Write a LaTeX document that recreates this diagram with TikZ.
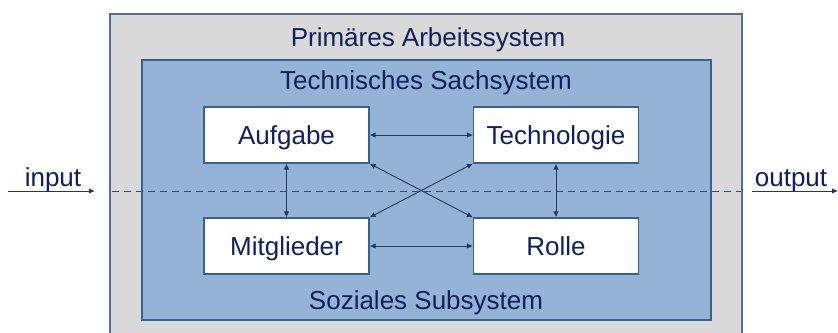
\documentclass[tikz,border=0pt]{standalone}
\usepackage{fontspec}
\setmainfont{Liberation Sans}
\usetikzlibrary{arrows.meta}
\definecolor{txt}{HTML}{10205A}
\definecolor{outerfill}{HTML}{D9D9D9}
\definecolor{outerline}{HTML}{4F6E9A}
\definecolor{innerfill}{HTML}{95B3D7}
\definecolor{innerline}{HTML}{3B5F8F}
\definecolor{arr}{HTML}{1F3864}
\begin{document}
\begin{tikzpicture}[x=1pt,y=-1pt,
  lbl/.style={text=txt,font=\fontsize{26}{30}\selectfont,inner sep=0pt,text height=18.6pt,text depth=0pt},
  elem/.style={draw=innerline,line width=1.2pt,fill=white,minimum width=165pt,minimum height=56pt,inner sep=0pt,text height=18.6pt,text depth=0pt,text=txt,font=\fontsize{26}{30}\selectfont},
  conn/.style={draw=arr,line width=0.9pt,{Latex[length=6pt,width=5.5pt]}-{Latex[length=6pt,width=5.5pt]}},
  oneway/.style={draw=arr,line width=0.9pt,-{Latex[length=6pt,width=5.5pt]}}]
\useasboundingbox (0,0) rectangle (838,332);
\clip (0,0) rectangle (838,332);
\fill[white] (0,0) rectangle (838,332);
% outer system
\draw[fill=outerfill,draw=outerline,line width=1.2pt] (110,14) rectangle (742,345);
\node[lbl] (prim) at (428,37.5) {Primäres Arbeitssystem};
% inner system
\draw[fill=innerfill,draw=innerline,line width=1.5pt] (142,60) rectangle (711,320);
\node[lbl] (tech) at (426,80) {Technisches Sachsystem};
\node[lbl] (soz) at (426,300) {Soziales Subsystem};
% dashed separator
\coordinate (dl) at (112,191);
\coordinate (dr) at (741,191);
\draw[arr!90,line width=0.9pt,dash pattern=on 7pt off 5pt] (dl) -- (dr);
% elements
\node[elem] (auf) at (286.5,135) {Aufgabe};
\node[elem] (tec) at (556,135) {Technologie};
\node[elem] (mit) at (286.5,246) {Mitglieder};
\node[elem] (rol) at (556,246) {Rolle};
% connectors
\draw[conn] (auf.east) -- (tec.west);
\draw[conn] (mit.east) -- (rol.west);
\draw[conn] (auf.south) -- (mit.north);
\draw[conn] (tec.south) -- (rol.north);
\draw[conn] (auf.south east) -- (rol.north west);
\draw[conn] (tec.south west) -- (mit.north east);
% input / output
\coordinate (is) at (8,191);
\coordinate (ie) at (95,191);
\draw[oneway] (is) -- (ie);
\node[lbl] (inp) at (53,177.5) {input};
\coordinate (os) at (752,191);
\coordinate (oe) at (838,191);
\draw[oneway] (os) -- (oe);
\node[lbl] (outp) at (791,177) {output};
\end{tikzpicture}
\end{document}
